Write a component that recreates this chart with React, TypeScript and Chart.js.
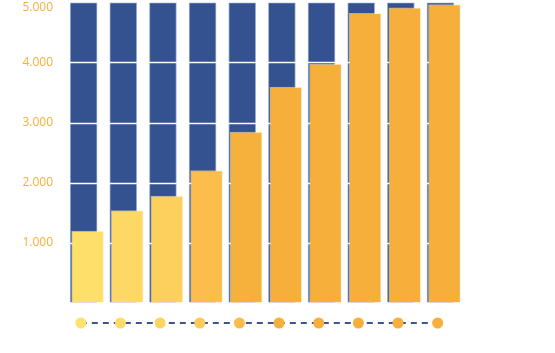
import React, { useEffect, useRef } from "react";
import { Chart, registerables } from "chart.js";

Chart.register(...registerables);

const categories = ["1", "2", "3", "4", "5", "6", "7", "8", "9", "10"];
const totalValues = [5000, 5000, 5000, 5000, 5000, 5000, 5000, 5000, 5000, 5000];
const reachedValues = [1190, 1530, 1775, 2200, 2840, 3590, 3975, 4820, 4910, 4965];
const timelineValues = [0, 0, 0, 0, 0, 0, 0, 0, 0, 0];
const yTickValues = [0, 1000, 2000, 3000, 4000, 5000];

const barColors = ["#fde06a", "#fdd864", "#fcd05d", "#fbbe4c", "#f6b13d", "#f5af3a", "#f5af3a", "#f5af3a", "#f5af3a", "#f5af3a"];
const dotColors = ["#fde26c", "#fddb66", "#fcd45f", "#fccb57", "#f9bd49", "#f5b03c", "#f5af3a", "#f5af3a", "#f5af3a", "#f5af3a"];

const fmt = (v: number) => (v === 0 ? "" : String(v).replace(/\B(?=(\d{3})+(?!\d))/g, "."));

const shiftPlugin = {
  id: "shiftAndGrid",
  beforeDatasetDraw(chart: any, args: any) {
    const dx = chart.data.datasets[args.index].shiftX || 0;
    chart.ctx.save();
    chart.ctx.translate(dx, 0);
  },
  afterDatasetDraw(chart: any, args: any) {
    chart.ctx.restore();
    if (args.index === 0) {
      const y = chart.scales.y;
      const ctx = chart.ctx;
      const area = chart.chartArea;
      ctx.save();
      ctx.strokeStyle = "#ffffff";
      ctx.lineWidth = 1.5;
      y.ticks.forEach((t: any) => {
        if (t.value === 0 || t.value === 5000) return;
        const py = Math.round(y.getPixelForValue(t.value)) + 0.5;
        ctx.beginPath();
        ctx.moveTo(area.left, py);
        ctx.lineTo(area.right, py);
        ctx.stroke();
      });
      ctx.restore();
    }
  },
  beforeDraw(chart: any) {
    const y = chart.scales.y;
    if (!y) return;
    const items = y.getLabelItems();
    items.forEach((it: any) => {
      if (it.options && it.options.translation) {
        it.options.translation[1] = Math.max(it.options.translation[1], 10.5);
      }
    });
  },
};

export default function App() {
  const ref = useRef<HTMLCanvasElement | null>(null);
  useEffect(() => {
    if (!ref.current) return;
    const chart = new Chart(ref.current, {
      type: "bar",
      data: {
        labels: categories,
        datasets: [
          {
            type: "bar",
            data: totalValues,
            backgroundColor: "#33528f",
            borderColor: "rgba(150,168,205,0.9)",
            borderWidth: 1,
            barThickness: 27,
            grouped: false,
            order: 3,
            yAxisID: "y",
            shiftX: 2.8,
          } as any,
          {
            type: "bar",
            data: reachedValues,
            backgroundColor: barColors,
            borderColor: "rgba(255,235,190,0.6)",
            borderWidth: 1,
            barThickness: 32,
            grouped: false,
            order: 2,
            yAxisID: "y",
            shiftX: 6.8,
          } as any,
          {
            type: "line",
            data: timelineValues,
            yAxisID: "y2",
            borderColor: "#3a5694",
            borderWidth: 2,
            borderDash: [6, 5],
            pointRadius: 5.5,
            pointBackgroundColor: dotColors,
            pointBorderColor: dotColors,
            pointBorderWidth: 0,
            clip: false,
            order: 1,
          } as any,
        ],
      },
      options: {
        animation: false,
        responsive: true,
        maintainAspectRatio: false,
        layout: { padding: { top: 0, bottom: 10, left: 0, right: 97.5 } },
        plugins: { legend: { display: false }, tooltip: { enabled: false } },
        scales: {
          x: {
            type: "category",
            display: false,
            offset: true,
            grid: { display: false },
          },
          y2: {
            type: "linear",
            position: "left",
            stack: "s",
            stackWeight: 41,
            min: -1,
            max: 1,
            border: { display: false },
            grid: { display: false, drawTicks: false },
            ticks: { display: false },
            afterFit: (scale: any) => {
              scale.width = 61;
              scale.paddingTop = 0;
              scale.paddingBottom = 0;
            },
          },
          y: {
            type: "linear",
            position: "left",
            stack: "s",
            stackWeight: 300,
            min: 0,
            max: 5000,
            border: { display: false },
            grid: { display: false, drawTicks: false },
            afterBuildTicks: (scale: any) => {
              scale.ticks = yTickValues.map((v) => ({ value: v }));
            },
            afterFit: (scale: any) => {
              scale.width = 61;
              scale.paddingTop = 0;
              scale.paddingBottom = 0;
            },
            ticks: {
              padding: 8,
              color: "#f5af3a",
              font: { family: "'Open Sans', sans-serif", size: 12 },
              callback: (v: any) => fmt(Number(v)),
            },
          },
        },
      } as any,
      plugins: [shiftPlugin as any],
    });
    return () => chart.destroy();
  }, []);
  return (
    <div style={{ position: "absolute", left: 0, top: -3.5, width: 555, height: 356.5, background: "#fff" }}>
      <canvas ref={ref} />
    </div>
  );
}
